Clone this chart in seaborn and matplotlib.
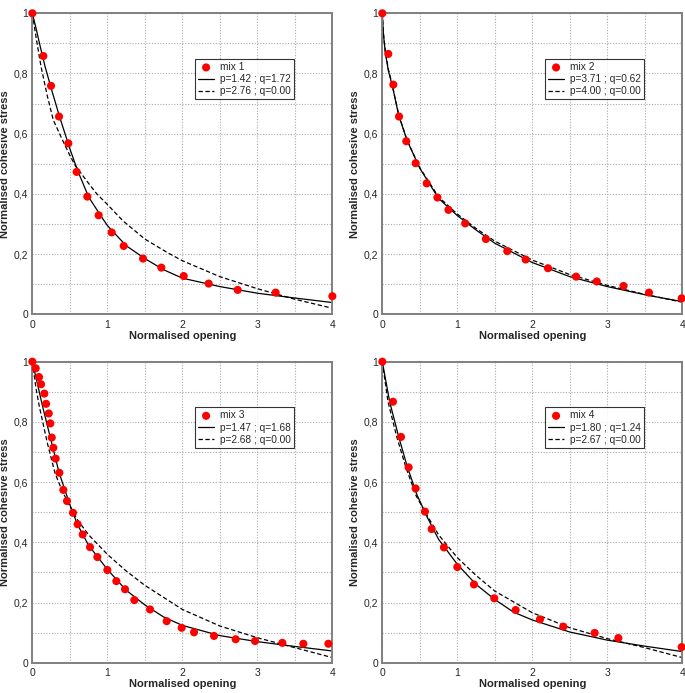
import matplotlib
matplotlib.use("Agg")
import matplotlib.pyplot as plt
import seaborn as sns
import pandas as pd

# ========== DATA ==========
# mix 1
mix1_x = [0, 0.147, 0.249, 0.356, 0.48, 0.591, 0.733, 0.884, 1.058, 1.218,
          1.476, 1.72, 2.018, 2.351, 2.738, 3.244, 4.0]
mix1_y = [1.0, 0.858, 0.759, 0.657, 0.568, 0.473, 0.391, 0.329, 0.272, 0.227,
          0.185, 0.155, 0.127, 0.102, 0.081, 0.072, 0.060]
mix1_fit_x = [0, 0.05, 0.1, 0.17, 0.25, 0.36, 0.5, 0.6, 0.75, 0.9, 1.0, 1.25,
              1.5, 1.75, 2.0, 2.5, 3.0, 3.5, 4.0]
mix1_fit_y = [1.0, 0.95, 0.895, 0.823, 0.752, 0.659, 0.55, 0.48, 0.39, 0.332,
              0.295, 0.228, 0.185, 0.148, 0.12, 0.092, 0.07, 0.054, 0.039]
mix1_q0_x = [0, 0.05, 0.116, 0.2, 0.28, 0.4, 0.5, 0.57, 0.75, 0.86, 1.0, 1.21,
             1.5, 1.8, 2.0, 2.5, 3.0, 3.5, 4.0]
mix1_q0_y = [1.0, 0.92, 0.823, 0.725, 0.645, 0.58, 0.528, 0.495, 0.435, 0.40,
             0.365, 0.31, 0.25, 0.205, 0.178, 0.125, 0.085, 0.05, 0.02]
mix1_labels = ["mix 1", "p=1.42 ; q=1.72", "p=2.76 ; q=0.00"]

# mix 2
mix2_x = [0, 0.08, 0.147, 0.223, 0.32, 0.445, 0.592, 0.735, 0.882, 1.105,
          1.381, 1.666, 1.911, 2.209, 2.584, 2.86, 3.216, 3.555, 3.991]
mix2_y = [1.0, 0.865, 0.763, 0.657, 0.575, 0.502, 0.435, 0.388, 0.347, 0.302,
          0.250, 0.210, 0.182, 0.153, 0.125, 0.109, 0.094, 0.072, 0.053]
mix2_fit_x = [0, 0.015, 0.04, 0.08, 0.13, 0.22, 0.33, 0.5, 0.75, 1.0, 1.25,
              1.5, 2.0, 2.5, 3.0, 3.5, 4.0]
mix2_fit_y = [1.0, 0.93, 0.87, 0.81, 0.763, 0.66, 0.578, 0.485, 0.385, 0.328,
              0.28, 0.236, 0.172, 0.125, 0.092, 0.065, 0.042]
mix2_q0_x = [0, 0.015, 0.04, 0.08, 0.13, 0.22, 0.33, 0.5, 0.75, 1.0, 1.25,
             1.5, 2.0, 2.5, 3.0, 3.5, 4.0]
mix2_q0_y = [1.0, 0.935, 0.875, 0.815, 0.765, 0.662, 0.578, 0.487, 0.39, 0.333,
             0.285, 0.243, 0.18, 0.132, 0.096, 0.066, 0.04]
mix2_labels = ["mix 2", "p=3.71 ; q=0.62", "p=4.00 ; q=0.00"]

# mix 3
mix3_x = [0, 0.045, 0.089, 0.116, 0.16, 0.183, 0.219, 0.24, 0.259, 0.28,
          0.311, 0.36, 0.413, 0.462, 0.542, 0.604, 0.671, 0.769, 0.867, 1.0,
          1.12, 1.236, 1.36, 1.569, 1.791, 1.991, 2.156, 2.422, 2.711, 2.969,
          3.333, 3.613, 3.947]
mix3_y = [1.0, 0.978, 0.949, 0.925, 0.894, 0.860, 0.828, 0.795, 0.748, 0.714,
          0.678, 0.631, 0.574, 0.537, 0.498, 0.46, 0.426, 0.384, 0.351, 0.308,
          0.271, 0.244, 0.208, 0.177, 0.138, 0.116, 0.101, 0.089, 0.078, 0.072,
          0.066, 0.063, 0.063]
mix3_fit_x = [0, 0.06, 0.138, 0.25, 0.356, 0.5, 0.6, 0.75, 1.0, 1.25, 1.5,
              1.75, 2.0, 2.5, 3.0, 3.5, 4.0]
mix3_fit_y = [1.0, 0.935, 0.85, 0.738, 0.632, 0.525, 0.46, 0.39, 0.31, 0.241,
              0.192, 0.152, 0.124, 0.09, 0.07, 0.054, 0.039]
mix3_q0_x = [0, 0.05, 0.094, 0.2, 0.303, 0.4, 0.5, 0.6, 0.75, 1.0, 1.25, 1.5,
             2.0, 2.5, 3.0, 3.5, 4.0]
mix3_q0_y = [1.0, 0.91, 0.85, 0.73, 0.629, 0.57, 0.52, 0.475, 0.425, 0.36,
             0.305, 0.257, 0.177, 0.122, 0.083, 0.05, 0.017]
mix3_labels = ["mix 3", "p=1.47 ; q=1.68", "p=2.68 ; q=0.00"]

# mix 4
mix4_x = [0, 0.142, 0.249, 0.351, 0.444, 0.569, 0.658, 0.822, 1.0, 1.222,
          1.493, 1.778, 2.102, 2.413, 2.831, 3.147, 3.991]
mix4_y = [1.0, 0.867, 0.750, 0.649, 0.579, 0.502, 0.444, 0.383, 0.318, 0.260,
          0.214, 0.175, 0.144, 0.120, 0.099, 0.082, 0.052]
mix4_fit_x = [0, 0.098, 0.218, 0.333, 0.463, 0.6, 0.75, 1.0, 1.25, 1.5, 1.75,
              2.0, 2.5, 3.0, 3.5, 4.0]
mix4_fit_y = [1.0, 0.867, 0.751, 0.651, 0.557, 0.483, 0.41, 0.327, 0.26, 0.21,
              0.168, 0.142, 0.102, 0.075, 0.055, 0.037]
mix4_q0_x = [0, 0.076, 0.192, 0.312, 0.45, 0.6, 0.75, 1.0, 1.25, 1.5, 2.0,
             2.5, 3.0, 3.5, 4.0]
mix4_q0_y = [1.0, 0.867, 0.751, 0.651, 0.555, 0.488, 0.425, 0.349, 0.29, 0.238,
             0.166, 0.116, 0.08, 0.05, 0.017]
mix4_labels = ["mix 4", "p=1.80 ; q=1.24", "p=2.67 ; q=0.00"]

X_TICKS = [0, 0.5, 1, 1.5, 2, 2.5, 3, 3.5, 4]
X_TICKLABELS = ["0", "", "1", "", "2", "", "3", "", "4"]
Y_TICKS = [0, 0.1, 0.2, 0.3, 0.4, 0.5, 0.6, 0.7, 0.8, 0.9, 1.0]
Y_TICKLABELS = ["0", "", "0,2", "", "0,4", "", "0,6", "", "0,8", "", "1"]

panels = [
    (mix1_x, mix1_y, mix1_fit_x, mix1_fit_y, mix1_q0_x, mix1_q0_y, mix1_labels),
    (mix2_x, mix2_y, mix2_fit_x, mix2_fit_y, mix2_q0_x, mix2_q0_y, mix2_labels),
    (mix3_x, mix3_y, mix3_fit_x, mix3_fit_y, mix3_q0_x, mix3_q0_y, mix3_labels),
    (mix4_x, mix4_y, mix4_fit_x, mix4_fit_y, mix4_q0_x, mix4_q0_y, mix4_labels),
]

# axes rectangles [left, bottom, width, height] in figure fraction
positions = [
    [0.0472, 0.5465, 0.438, 0.4343],
    [0.5581, 0.5465, 0.438, 0.4343],
    [0.0472, 0.0437, 0.438, 0.4344],
    [0.5581, 0.0437, 0.438, 0.4344],
]

# ========== PLOT ==========
sns.set_style("white")
plt.rcParams["font.family"] = ["Liberation Sans", "DejaVu Sans"]

fig = plt.figure(figsize=(6.85, 6.93), dpi=100)

for pos, (px, py, fx, fy, qx, qy, labels) in zip(positions, panels):
    ax = fig.add_axes(pos)

    sns.lineplot(x=fx, y=fy, ax=ax, color="black", linewidth=0.9,
                 estimator=None, sort=False, label=labels[1])
    sns.lineplot(x=qx, y=qy, ax=ax, color="black", linewidth=0.9,
                 estimator=None, sort=False, label=labels[2])
    ax.lines[-1].set_dashes([3.5, 2])
    sns.scatterplot(x=px, y=py, ax=ax, color="red", s=34,
                    edgecolor="none", label=labels[0], zorder=5)
    for coll in ax.collections:
        coll.set_clip_on(False)

    ax.set_xlim(0, 4)
    ax.set_ylim(0, 1)
    ax.set_xticks(X_TICKS)
    ax.set_xticklabels(X_TICKLABELS)
    ax.set_yticks(Y_TICKS)
    ax.set_yticklabels(Y_TICKLABELS)
    ax.tick_params(length=0, pad=3, labelsize=7.5)
    ax.tick_params(axis="x", pad=4)
    ax.grid(True, color="#aaaaaa", linestyle=(0, (1, 1.5)), linewidth=0.8)

    for sp in ax.spines.values():
        sp.set_color("#808080")
        sp.set_linewidth(1.4)

    ax.set_xlabel("Normalised opening", fontsize=8, fontweight="bold")
    ax.set_ylabel("Normalised cohesive stress", fontsize=8, fontweight="bold")
    ax.xaxis.set_label_coords(0.5, -0.055)
    ax.yaxis.set_label_coords(-0.073, 0.5)

    handles, labs = ax.get_legend_handles_labels()
    order = [labs.index(l) for l in labels]
    leg = ax.legend([handles[i] for i in order], [labs[i] for i in order],
                    loc="upper left", bbox_to_anchor=(0.542, 0.848),
                    fontsize=7.3, frameon=True, fancybox=False,
                    edgecolor="black", handlelength=1.6, handletextpad=0.6,
                    borderpad=0.3, labelspacing=0.2, borderaxespad=0)
    leg.get_frame().set_linewidth(0.8)

fig.savefig("out.png", dpi=100)
